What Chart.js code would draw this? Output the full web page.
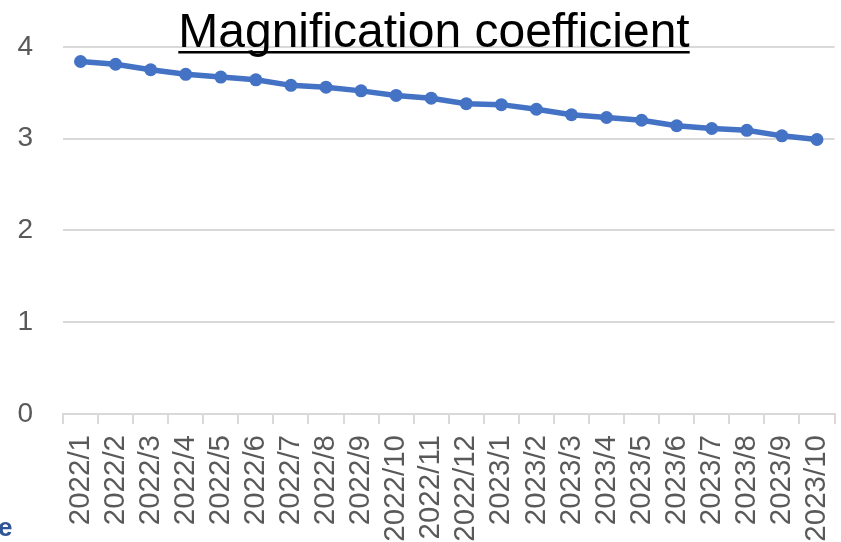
<!DOCTYPE html>
<html>
<head>
<meta charset="utf-8">
<script src="https://cdn.jsdelivr.net/npm/chart.js@4.4.1/dist/chart.umd.min.js"></script>
<style>
    body { margin: 0; background: #fff; }
    #wrap { width: 841px; height: 542px; position: relative; }
</style>
</head>
<body>
<div id="wrap">
    <canvas id="coef-chart" width="841" height="542"></canvas>
</div>
<script>
const months = [
    '2022/1', '2022/2', '2022/3', '2022/4', '2022/5', '2022/6', '2022/7', '2022/8', '2022/9', '2022/10', '2022/11',
    '2022/12', '2023/1', '2023/2', '2023/3', '2023/4', '2023/5', '2023/6', '2023/7', '2023/8', '2023/9', '2023/10',
];
const coefficient = [
    3.84, 3.81, 3.75, 3.7, 3.67, 3.64, 3.58, 3.56, 3.52, 3.47, 3.44,
    3.38, 3.37, 3.32, 3.26, 3.23, 3.2, 3.14, 3.11, 3.09, 3.03, 2.99,
];
const yTicks = [0, 1, 2, 3, 4];
const chartTitle = 'Magnification coefficient';

const labelColor = '#595959';
const gridColor = '#d9d9d9';
const lineColor = '#4472c4';

// title sits over the plot and is underlined, so draw it by hand
const titlePlugin = {
    id: 'underlinedTitle',
    afterDraw(chart) {
        const ctx = chart.ctx;
        ctx.save();
        ctx.font = '48px "Liberation Sans", Arial, sans-serif';
        ctx.fillStyle = '#000';
        ctx.textAlign = 'center';
        ctx.textBaseline = 'alphabetic';
        const cx = 434;
        const base = 47;
        ctx.fillText(chartTitle, cx, base);
        const w = ctx.measureText(chartTitle).width;
        ctx.fillRect(cx - w / 2, base + 4, w, 2.5);

        ctx.font = 'bold 26px "Liberation Sans", Arial, sans-serif';
        ctx.fillStyle = '#2f5597';
        ctx.textAlign = 'left';
        ctx.fillText('e', -2, 536);
        ctx.restore();
    },
};

new Chart(document.getElementById('coef-chart'), {
    type: 'line',
    data: {
        labels: months,
        datasets: [
            {
                data: coefficient,
                borderColor: lineColor,
                backgroundColor: lineColor,
                borderWidth: 5.5,
                pointRadius: 6.5,
                pointHoverRadius: 6.5,
                pointBorderWidth: 0,
                tension: 0,
            },
        ],
    },
    options: {
        responsive: false,
        animation: false,
        layout: {
            padding: { top: 46, right: 6, left: 0, bottom: 0 },
        },
        plugins: {
            legend: { display: false },
            title: { display: false },
            tooltip: { enabled: false },
        },
        scales: {
            x: {
                offset: true,
                grid: {
                    offset: true,
                    drawOnChartArea: false,
                    color: gridColor,
                    lineWidth: 2,
                    tickLength: 10,
                },
                border: { color: gridColor, width: 2 },
                ticks: {
                    autoSkip: false,
                    maxRotation: 90,
                    minRotation: 90,
                    padding: 11,
                    color: labelColor,
                    font: { family: '"Liberation Sans", Arial, sans-serif', size: 29.5 },
                },
                afterFit: (scale) => {
                    scale.height = 128;
                    scale.paddingLeft = 0;
                    scale.paddingRight = 0;
                },
            },
            y: {
                min: 0,
                max: 4,
                afterBuildTicks: (scale) => {
                    scale.ticks = yTicks.map((v) => ({ value: v }));
                },
                grid: {
                    color: gridColor,
                    lineWidth: 2,
                    drawTicks: false,
                },
                border: { display: false },
                ticks: {
                    padding: 30,
                    color: labelColor,
                    font: { family: '"Liberation Sans", Arial, sans-serif', size: 28 },
                },
                afterFit: (scale) => {
                    scale.width = 63;
                },
            },
        },
    },
    plugins: [titlePlugin],
});
</script>
</body>
</html>
